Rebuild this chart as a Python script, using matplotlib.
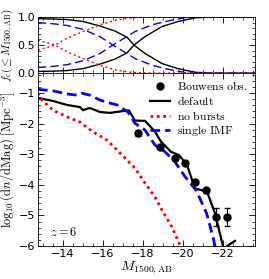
import matplotlib
matplotlib.use('Agg')
import matplotlib.pyplot as plt
from matplotlib.ticker import MultipleLocator
import numpy as np

plt.rcParams['mathtext.fontset'] = 'cm'
plt.rcParams['font.size'] = 8

# ---- top panel: cumulative fractions (rising branch, other branch = 1 - f)
fc_black_x = [-12.75, -13.5, -14.2, -15.0, -15.85, -16.6, -17.2, -17.55, -18.1, -18.95, -19.75, -20.6, -21.5, -23.6]
fc_black_y = [0.03, 0.035, 0.045, 0.08, 0.16, 0.25, 0.36, 0.5, 0.65, 0.83, 0.92, 0.985, 1.0, 1.0]
fc_blue_x = [-12.75, -13.5, -14.2, -15.0, -15.85, -16.5, -17.1, -17.6, -18.45, -19.25, -20.1, -20.6, -23.6]
fc_blue_y = [0.1, 0.12, 0.15, 0.22, 0.35, 0.5, 0.63, 0.74, 0.86, 0.93, 0.99, 1.0, 1.0]
fc_red_x = [-12.75, -13.6, -14.2, -15.0, -15.85, -16.7, -17.5, -18.5, -23.6]
fc_red_y = [0.41, 0.5, 0.62, 0.74, 0.86, 0.95, 0.99, 1.0, 1.0]

# ---- bottom panel: luminosity functions
lf_default_x = [-12.75, -13.5, -14.2, -14.85, -15.0, -15.35, -15.85, -16.35, -17.0, -17.3, -17.6, -18.1,
                -18.6, -18.9, -19.4, -19.8, -20.2, -20.6, -21.2, -21.6, -22.0, -22.1, -22.2, -22.6]
lf_default_y = [-1.16, -1.26, -1.39, -1.46, -1.56, -1.49, -1.62, -1.65, -1.59, -1.57, -1.9, -1.91,
                -2.26, -2.59, -2.92, -3.03, -3.35, -4.12, -4.22, -4.93, -6.0, -6.3, -6.0, -5.83]
lf_nobursts_x = [-12.75, -12.95, -13.5, -14.2, -14.85, -15.5, -16.2, -16.85, -17.35, -17.6, -18.1, -18.6,
                 -18.95, -19.45, -19.85, -20.0]
lf_nobursts_y = [-1.0, -1.23, -1.56, -1.78, -1.95, -2.27, -2.54, -2.96, -3.29, -3.45, -3.94, -4.4,
                 -4.82, -5.38, -5.97, -6.3]
lf_single_x = [-12.75, -13.5, -14.2, -14.7, -14.95, -15.35, -15.85, -16.35, -16.7, -17.25, -17.6, -18.1,
               -18.6, -19.1, -19.6, -20.1, -20.68, -21.18, -21.5, -21.6, -21.7]
lf_single_y = [-0.88, -0.93, -1.03, -1.07, -1.01, -1.07, -1.23, -1.33, -1.39, -1.62, -1.99, -2.21,
               -2.7, -2.92, -3.25, -3.73, -4.2, -4.93, -5.7, -6.0, -6.3]

obs_M = [-17.75, -18.85, -19.6, -20.12, -20.62, -21.15, -21.65, -22.18]
obs_logphi = [-2.31, -2.76, -3.12, -3.3, -3.9, -4.18, -5.05, -5.04]
obs_err = [0.08, 0.06, 0.06, 0.06, 0.07, 0.08, 0.28, 0.3]

fig = plt.figure(figsize=(2.69, 2.79), dpi=100)
ax_top = fig.add_axes([0.141, 0.738, 0.807, 0.201])
ax_bot = fig.add_axes([0.141, 0.118, 0.807, 0.620], sharex=ax_top)

# top panel
fb = np.array(fc_black_y); fu = np.array(fc_blue_y); fr = np.array(fc_red_y)
ax_top.plot(fc_black_x, fb, color='black', lw=1.0)
ax_top.plot(fc_black_x, 1 - fb, color='black', lw=1.0)
ax_top.plot(fc_blue_x, fu, color='blue', lw=1.0, ls=(0, (6, 3)))
ax_top.plot(fc_blue_x, 1 - fu, color='blue', lw=1.0, ls=(0, (6, 3)))
ax_top.plot(fc_red_x, fr, color='red', lw=1.0, ls=(0, (1.5, 2)))
ax_top.plot(fc_red_x, 1 - fr, color='red', lw=1.0, ls=(0, (1.5, 2)))
ax_top.set_ylim(0, 1)
ax_top.set_yticks([0.0, 0.5, 1.0])
ax_top.yaxis.set_minor_locator(MultipleLocator(0.1))
ax_top.set_ylabel(r'$f_c(\leq M_{1500,\rm AB})$', fontsize=8, labelpad=1)
plt.setp(ax_top.get_xticklabels(), visible=False)

# bottom panel
obs = ax_bot.errorbar(obs_M, obs_logphi, yerr=obs_err, fmt='o', color='black', ms=5,
                      elinewidth=0.8, capsize=2, zorder=5)
l_def, = ax_bot.plot(lf_default_x, lf_default_y, color='black', lw=1.6)
l_nob, = ax_bot.plot(lf_nobursts_x, lf_nobursts_y, color='red', lw=2.0, ls=(0, (1, 1.3)))
l_sin, = ax_bot.plot(lf_single_x, lf_single_y, color='blue', lw=2.0, ls=(0, (3.5, 1.8)))
ax_bot.set_ylim(-6, -0.35)
ax_bot.set_xlim(-12.75, -23.6)
ax_bot.set_xticks([-14, -16, -18, -20, -22])
ax_bot.xaxis.set_minor_locator(MultipleLocator(0.5))
ax_bot.set_yticks([-1, -2, -3, -4, -5, -6])
ax_bot.yaxis.set_minor_locator(MultipleLocator(0.2))
ax_bot.set_xlabel(r'$M_{1500,\rm AB}$', fontsize=10, labelpad=0)
ax_bot.set_ylabel(r'$\log_{10}({\rm d}n/{\rm dMag})\ [{\rm Mpc}^{-3}]$', fontsize=9, labelpad=1)
ax_bot.text(-13.35, -5.55, r'$z=6$', fontsize=9, va='center')

ax_bot.legend([obs[0], l_def, l_nob, l_sin],
              [r'$\rm Bouwens\ obs.$', r'$\rm default$', r'$\rm no\ bursts$', r'$\rm single\ IMF$'],
              loc='upper right', frameon=False, fontsize=8.5,
              handlelength=1.7, handletextpad=0.6, labelspacing=0.15,
              borderaxespad=0.2, bbox_to_anchor=(1.0, 1.0))

for ax in (ax_top, ax_bot):
    ax.tick_params(which='both', direction='in', top=True, right=True, labelsize=8, pad=2)
    ax.tick_params(which='major', length=4, width=0.6)
    ax.tick_params(which='minor', length=2, width=0.5)
    for sp in ax.spines.values():
        sp.set_linewidth(0.6)

fig.savefig('out.png', dpi=100)
